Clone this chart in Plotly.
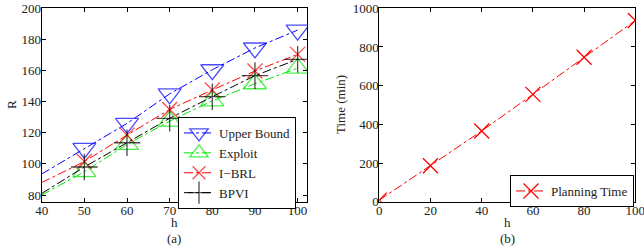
import plotly.graph_objects as go

# ---- data ----
h_a = [40, 50, 60, 70, 80, 90, 100]
upper_bound = [93.5, 110, 126, 145, 160.5, 174.5, 186]
exploit = [80, 95, 112.5, 127.5, 140.5, 151.5, 161.5]
i_brl = [88, 101.5, 118.5, 135, 147.5, 159.7, 170.4]
bpvi = [81, 98, 113.6, 129.3, 143.2, 156.7, 167.2]

h_b = [0, 20, 40, 60, 80, 100]
planning_time = [8, 186, 366, 555, 747, 937]

x_ticks_a = [40, 50, 60, 70, 80, 90, 100]
y_ticks_a = [80, 100, 120, 140, 160, 180, 200]
x_ticks_b = [0, 20, 40, 60, 80, 100]
y_ticks_b = [0, 200, 400, 600, 800, 1000]

FONT = "Liberation Serif"
W, H = 644, 248


def px(x):
    return x / W


def py(y):
    return (H - y) / H


fig = go.Figure()

series = [
    ("Upper Bound", upper_bound, "rgb(0,0,255)", "triangle-down-open", 20),
    ("Exploit", exploit, "rgb(0,230,0)", "triangle-up-open", 20),
    ("I\u2212BRL", i_brl, "rgb(255,0,0)", "x-thin-open", 15),
    ("BPVI", bpvi, "black", "cross-thin-open", 19),
]
for name, vals, col, sym, sz in series:
    fig.add_trace(go.Scatter(
        x=h_a, y=vals, name=name, mode="lines+markers",
        line=dict(color=col, width=1, dash="dashdot"),
        marker=dict(symbol=sym, size=[0] + [sz] * (len(h_a) - 1),
                    color=col, line=dict(color=col, width=1.3)),
        xaxis="x", yaxis="y", legend="legend",
    ))

fig.add_trace(go.Scatter(
    x=h_b, y=planning_time, name="Planning Time", mode="lines+markers",
    line=dict(color="rgb(255,0,0)", width=1, dash="dashdot"),
    marker=dict(symbol="x-thin-open", size=15, color="rgb(255,0,0)",
                line=dict(color="rgb(255,0,0)", width=1.3)),
    xaxis="x2", yaxis="y2", legend="legend2",
))

ax_common = dict(
    showline=True, linecolor="black", linewidth=1, mirror="ticks",
    ticks="inside", ticklen=4, tickcolor="black", showgrid=False,
    zeroline=False, automargin=False, ticklabeloverflow="allow",
    tickfont=dict(family=FONT, size=13, color="#222"),
)
xstyle = dict(ticklabelstandoff=-3, **ax_common)
ystyle = dict(ticklabelstandoff=-3, **ax_common)

y0 = py(201.7)
y1 = py(8.3)

fig.update_layout(
    width=W, height=H,
    margin=dict(l=0, r=0, t=0, b=0, autoexpand=False),
    paper_bgcolor="white", plot_bgcolor="white",
    font=dict(family=FONT, size=13, color="black"),
    xaxis=dict(domain=[px(41.7), px(307)], range=[40, 102.2],
               tickvals=x_ticks_a, anchor="y", **xstyle),
    yaxis=dict(domain=[y0, y1], range=[75.7, 200],
               tickvals=y_ticks_a, anchor="x", **ystyle),
    xaxis2=dict(domain=[px(379.3), px(635.3)], range=[0, 100],
                tickvals=x_ticks_b, anchor="y2", **xstyle),
    yaxis2=dict(domain=[y0, y1], range=[0, 1000],
                tickvals=y_ticks_b, anchor="x2", **ystyle),
    legend=dict(x=px(296), y=py(117), xanchor="right", yanchor="top",
                bordercolor="black", borderwidth=1, bgcolor="white",
                font=dict(family=FONT, size=13, color="#222"),
                tracegroupgap=0, itemwidth=30),
    legend2=dict(x=px(634), y=py(175), xanchor="right", yanchor="top",
                 bordercolor="black", borderwidth=1, bgcolor="white",
                 font=dict(family=FONT, size=13, color="#222"), itemwidth=30),
    showlegend=True,
)

annots = [
    dict(text="h", x=px((41.7 + 307) / 2), y=py(222)),
    dict(text="(a)", x=px((41.7 + 307) / 2), y=py(238)),
    dict(text="h", x=px((379.3 + 635.3) / 2), y=py(222)),
    dict(text="(b)", x=px((379.3 + 635.3) / 2), y=py(238)),
    dict(text="R", x=px(12), y=py(105), textangle=-90),
    dict(text="Time (min)", x=px(341), y=py(105), textangle=-90),
]
for a in annots:
    fig.add_annotation(xref="paper", yref="paper", showarrow=False,
                       xanchor="center", yanchor="middle",
                       font=dict(family=FONT, size=13, color="#222"), **a)

fig.write_html(
    "out.html",
    config={"displayModeBar": False},
    post_script="document.body.style.margin='0px';"
                "document.body.style.overflow='hidden';",
)
